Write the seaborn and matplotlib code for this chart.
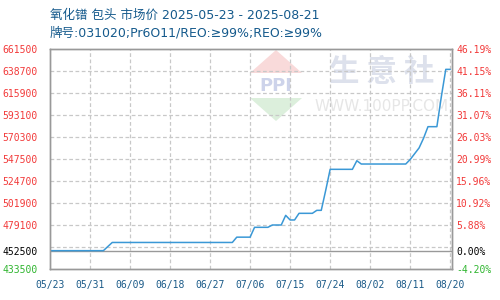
import matplotlib
matplotlib.use("Agg")
import matplotlib.pyplot as plt
import seaborn as sns
import pandas as pd
from matplotlib.patches import Polygon

# ---- data ----
dates = ["2025-05-23", "2025-06-04", "2025-06-06", "2025-07-03", "2025-07-04",
         "2025-07-07", "2025-07-08", "2025-07-11", "2025-07-12", "2025-07-14",
         "2025-07-15", "2025-07-16", "2025-07-17", "2025-07-18", "2025-07-21",
         "2025-07-22", "2025-07-23", "2025-07-24", "2025-07-25", "2025-07-30",
         "2025-07-31", "2025-08-01", "2025-08-11", "2025-08-12", "2025-08-13",
         "2025-08-14", "2025-08-15", "2025-08-16", "2025-08-18", "2025-08-19",
         "2025-08-20", "2025-08-21"]
prices = [452500, 452500, 461000, 461000, 466500,
          466500, 476700, 476700, 479100, 479100,
          489100, 484300, 484300, 491200, 491200,
          494300, 494300, 515000, 536800, 536800,
          545700, 542300, 542300, 547000, 553000,
          559000, 569000, 581000, 581000, 612000,
          640400, 640400]

base_price = 452500
start_date = "2025-05-23"
left_ticks = [433500, 452500, 479100, 501900, 524700, 547500,
              570300, 593100, 615900, 638700, 661500]
left_labels = ["433500", "452500", "479100", "501900", "524700", "547500",
               "570300", "593100", "615900", "638700", "661500"]
right_labels = ["-4.20%", "0.00%", "5.88%", "10.92%", "15.96%", "20.99%",
                "26.03%", "31.07%", "36.11%", "41.15%", "46.19%"]
grid_levels = [456300, 479100, 501900, 524700, 547500, 570300, 593100, 615900, 638700]
x_tick_days = [0, 9, 18, 27, 36, 45, 54, 63, 72, 81, 90]
x_tick_labels = ["05/23", "05/31", "06/09", "06/18", "06/27", "07/06",
                 "07/15", "07/24", "08/02", "08/11", "08/20"]
title_line1 = "氧化镨 包头 市场价 2025-05-23 - 2025-08-21"
title_line2 = "牌号:031020;Pr6O11/REO:≥99%;REO:≥99%"

sns.set_theme(style="white")
plt.rcParams["font.family"] = ["DejaVu Sans", "Noto Sans CJK SC"]

days = (pd.to_datetime(dates) - pd.Timestamp(start_date)).days
df = pd.DataFrame({"day": days, "price": prices})

fig = plt.figure(figsize=(5, 3), dpi=100)
ax = fig.add_axes([50 / 500, 1 - 269 / 300, 402 / 500, 220 / 300])

# watermark
ax.text(0.826, 0.895, "生 意 社", transform=ax.transAxes, ha="center", va="center",
        fontsize=22, fontweight="bold", color="#dde1ec", zorder=0,
        family=["Noto Sans CJK SC"])
ax.text(0.824, 0.74, "WWW.100PP.COM", transform=ax.transAxes, ha="center", va="center",
        fontsize=11, color="#e6e6e6", zorder=0, family=["DejaVu Sans"])


def px(xp, yp):
    return ((xp - 50) / 402, (269 - yp) / 220)


ax.add_patch(Polygon([px(250, 73), px(302, 73), px(276, 50)], closed=True,
                     transform=ax.transAxes, color="#f9dada", zorder=0, lw=0))
ax.add_patch(Polygon([px(250, 98), px(302, 98), px(276, 121)], closed=True,
                     transform=ax.transAxes, color="#dcefdc", zorder=0, lw=0))
ax.text(*px(276, 86), "PPI", transform=ax.transAxes, ha="center", va="center",
        fontsize=13, fontweight="bold", color="#cdd3ea", zorder=0, family=["DejaVu Sans"])

for g in grid_levels:
    ax.axhline(g, color="#c8c8c8", lw=0.9, ls=(0, (3, 2)), zorder=1)
for d in x_tick_days[1:]:
    ax.axvline(d, color="#c8c8c8", lw=0.9, ls=(0, (3, 2)), zorder=1)
ax.axhline(base_price, color="#999999", lw=1.0, zorder=2)

sns.lineplot(data=df, x="day", y="price", ax=ax, color="#3a98d6", lw=1.1, zorder=3)

ax.set_xlim(0, 90.4)
ax.set_ylim(433500, 661500)
ax.set_xlabel("")
ax.set_ylabel("")
ax.set_xticks(x_tick_days)
ax.set_xticklabels(x_tick_labels, family=["DejaVu Sans Mono"], fontsize=7, color="#1a5a88")
ax.set_yticks(left_ticks)
ax.set_yticklabels(left_labels, family=["DejaVu Sans Mono"], fontsize=7)
ax.tick_params(axis="x", length=0, pad=8)
ax.tick_params(axis="y", length=0, pad=9)


def lab_color(v):
    if v > base_price:
        return "#f23a3a"
    if v < base_price:
        return "#2fb52f"
    return "#000000"


for lab, v in zip(ax.get_yticklabels(), left_ticks):
    lab.set_color(lab_color(v))

ax2 = ax.twinx()
ax2.set_ylim(433500, 661500)
ax2.set_yticks(left_ticks)
ax2.set_yticklabels(right_labels, family=["DejaVu Sans Mono"], fontsize=7)
ax2.tick_params(axis="y", length=0, pad=3)
for lab, v in zip(ax2.get_yticklabels(), left_ticks):
    lab.set_color(lab_color(v))
ax2.grid(False)

for a in (ax, ax2):
    for s in a.spines.values():
        s.set_color("#999999")
        s.set_linewidth(1.0)
        s.set_visible(True)

fig.text(50 / 500, 1 - 15 / 300, title_line1, ha="left", va="center",
         fontsize=9, color="#155a8c")
fig.text(50 / 500, 1 - 33 / 300, title_line2, ha="left", va="center",
         fontsize=9, color="#155a8c")

fig.savefig("out.png", dpi=100)
